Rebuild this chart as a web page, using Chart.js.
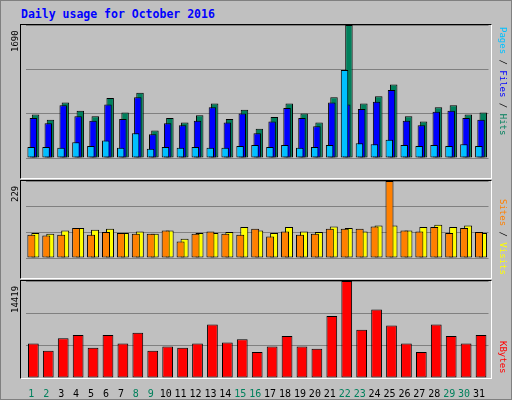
<!DOCTYPE html>
<html><head><meta charset="utf-8">
<script src="https://cdn.jsdelivr.net/npm/chart.js@4"></script>
<style>
body{margin:0;background:#C0C0C0;}
#wrap{position:absolute;left:0;top:0;width:510px;height:398px;border:1px solid #808080;background:#C0C0C0;font-family:"DejaVu Sans Mono",monospace;}
.panel{position:absolute;left:20px;width:471px;box-sizing:border-box;}
.frame{position:absolute;left:19px;width:472px;border-top:1px solid #000;border-left:1px solid #000;border-right:1px solid #fff;border-bottom:1px solid #fff;box-sizing:border-box;pointer-events:none;}
.rl{position:absolute;font-size:9px;line-height:11px;transform-origin:0 0;white-space:nowrap;}
</style></head><body>
<div id="wrap">
<div style="position:absolute;left:20px;top:6px;color:#0000FF;font-weight:bold;font-size:11.5px;">Daily usage for October 2016</div>
<div class="panel" style="top:24px;height:153px"><canvas id="c1"></canvas></div>
<div class="panel" style="top:180px;height:97px"><canvas id="c2"></canvas></div>
<div class="panel" style="top:280px;height:117px"><canvas id="c3"></canvas></div>
<div class="frame" style="top:23px;height:155px"></div>
<div class="frame" style="top:179px;height:99px"></div>
<div class="frame" style="top:279px;height:99px"></div>
<div class="rl" style="left:9px;top:51px;transform:rotate(-90deg)">1690</div>
<div class="rl" style="left:9px;top:201px;transform:rotate(-90deg)">229</div>
<div class="rl" style="left:9px;top:312px;transform:rotate(-90deg)">14419</div>
<div class="rl" style="left:507px;top:26px;transform:rotate(90deg)"><span style="color:#00C0FF">Pages</span><span> / </span><span style="color:#0000FF">Files</span><span> / </span><span style="color:#00805C">Hits</span></div>
<div class="rl" style="left:507px;top:198px;transform:rotate(90deg)"><span style="color:#FF8000">Sites</span><span> / </span><span style="color:#FFFF00">Visits</span></div>
<div class="rl" style="left:507px;top:340px;transform:rotate(90deg)"><span style="color:#FF0000">KBytes</span></div>
</div>
<script>
const days = Array.from({length:31},(_,i)=>String(i+1));
const weekend = [1,2,8,9,15,16,22,23,29,30];
const hits = [554,486,704,600,532,761,577,830,348,509,451,543,692,497,612,371,520,692,566,451,772,1690,692,784,933,532,463,646,669,554,577];
const files = [509,440,669,532,474,681,497,772,302,440,417,474,646,451,566,314,463,635,509,405,704,681,623,715,864,474,417,589,600,509,486];
const pages = [141,141,130,199,153,222,130,314,119,141,130,141,130,130,153,164,141,164,130,141,164,1117,187,176,233,164,153,164,153,176,153];
const visits = [74,72,82,89,84,87,74,79,72,82,57,74,74,77,92,82,74,92,79,77,94,89,79,97,97,82,92,99,92,97,74];
const sites = [69,67,69,89,69,77,74,72,72,82,49,72,79,72,69,87,64,79,69,72,87,87,87,94,229,82,79,92,74,89,77];
const kbytes = [5138,4037,5925,6396,4509,6396,5138,6711,4037,4666,4509,5138,7969,5295,5767,3880,4666,6239,4666,4352,9228,14419,7183,10171,7812,5138,3880,7969,6239,5138,6396];
const maxTop=1690, maxMid=229, maxBot=14419;
const rev = a => a.slice().reverse();

function mk(id, datasets, max, cat, bar, showX){
  new Chart(document.getElementById(id),{
    type:'bar',
    data:{labels:rev(days),datasets:datasets.map(d=>Object.assign({borderColor:'#000',borderWidth:1,borderSkipped:false,categoryPercentage:cat,barPercentage:bar},d,{data:rev(d.data)}))},
    options:{responsive:true,maintainAspectRatio:false,animation:false,
      layout:{padding:{left:4.9,right:3.5,top:0,bottom:0}},
      plugins:{legend:{display:false},tooltip:{enabled:false}},
      scales:{
        x:{display:showX,reverse:true,grid:{display:false},border:{display:false},
           ticks:{labelOffset:-2,padding:2,maxRotation:0,autoSkip:false,font:{family:'DejaVu Sans Mono',size:10},
             color:c=>weekend.includes(31-c.index)?'#00805C':'#000'},
           afterFit:s=>{s.height=20;}},
        y:{min:0,max:max,
           afterBuildTicks:s=>{s.ticks=[0,max/3,2*max/3,max].map(v=>({value:v}));},
           ticks:{display:false},border:{display:false},
           grid:{color:'#808080',drawTicks:false,lineWidth:1},
           afterFit:s=>{s.width=0;}}
      }}
  });
}
mk('c1',[
 {data:hits,backgroundColor:'#00805C',order:3},
 {data:files,backgroundColor:'#0000FF',order:2},
 {data:pages,backgroundColor:'#00C0FF',order:1}],maxTop,0.442,3.4,false);
mk('c2',[
 {data:visits,backgroundColor:'#FFFF00',order:2},
 {data:sites,backgroundColor:'#FF8000',order:1}],maxMid,0.536,2.0,false);
mk('c3',[
 {data:kbytes,backgroundColor:'#FF0000'}],maxBot,0.72,1.0,true);
</script>
</body></html>
